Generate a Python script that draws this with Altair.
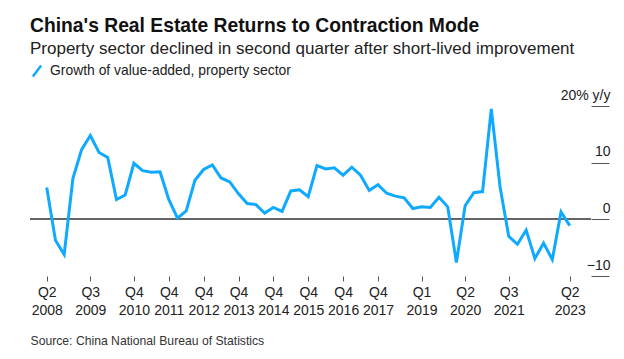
import altair as alt
import pandas as pd

# Quarterly growth of value-added, property sector (% y/y), Q2 2008 .. Q2 2023
values = [
    5.6, -3.7, -6.2, 7.2, 12.3, 14.8, 11.8, 10.9, 3.5, 4.3,
    9.9, 8.6, 8.3, 8.4, 3.5, 0.2, 1.5, 6.9, 8.8, 9.6,
    7.3, 6.6, 4.5, 2.8, 2.6, 1.1, 2.1, 1.4, 5.0, 5.2,
    4.0, 9.5, 8.9, 9.1, 7.8, 9.2, 7.8, 5.1, 6.1, 4.6,
    4.1, 3.8, 1.9, 2.2, 2.1, 3.9, 2.2, -7.6, 2.4, 4.7,
    4.9, 19.5, 5.8, -3.0, -4.4, -1.9, -6.9, -4.2, -7.1, 1.3,
    -1.1,
]
quarters = [f"Q{(q % 4) + 1} {2008 + q // 4}" for q in range(1, 1 + len(values))]
tick_labels = ["Q2 2008", "Q3 2009", "Q4 2010", "Q4 2011", "Q4 2012", "Q4 2013",
               "Q4 2014", "Q4 2015", "Q4 2016", "Q4 2017", "Q1 2019", "Q2 2020",
               "Q3 2021", "Q2 2023"]
y_ticks = [-10, 0, 10, 20]
series_name = "Growth of value-added, property sector"

df = pd.DataFrame({
    "t": list(range(len(values))),
    "quarter": quarters,
    "value": values,
    "series": series_name,
})
tick_idx = [quarters.index(l) for l in tick_labels]
label_expr = ("split([" + ",".join(f"'{l}'" for l in tick_labels) + "][indexof(["
              + ",".join(str(i) for i in tick_idx) + "], datum.value)], ' ')")

FONT = "Liberation Sans"
BLUE = "#0fa9ff"

x = alt.X("t:Q",
          scale=alt.Scale(domain=[-1.92, 62.44], nice=False, zero=False),
          axis=alt.Axis(values=tick_idx, labelExpr=label_expr, tickSize=5,
                        tickColor="#555", domain=False, grid=False,
                        labelFont=FONT, labelFontSize=14, labelColor="#222",
                        labelLineHeight=18, labelPadding=4, labelBaseline="top",
                        labelFlush=False, labelOverlap=False,
                        title="Source: China National Bureau of Statistics",
                        titleFont=FONT, titleFontSize=12.2, titleFontWeight="normal",
                        titleColor="#333", titleAnchor="start", titleAlign="left",
                        titleBaseline="alphabetic", titleX=0, titleY=68))

y_axis = alt.Axis(orient="right", values=y_ticks, tickSize=18, tickColor="#555",
                  tickWidth=1, domain=False, grid=False,
                  labelExpr="datum.value == 20 ? '20% y/y' : datum.label",
                  labelAlign="right", labelPadding=1, labelBaseline="alphabetic",
                  labelOffset=-7, labelFont=FONT, labelFontSize=14,
                  labelColor="#222", title=None)

zero = alt.Chart(df).mark_rule(color="#666", strokeWidth=1.4).encode(
    y=alt.datum(0, scale=alt.Scale(domain=[-10, 20], nice=False))
)

line = alt.Chart(df).mark_line(strokeWidth=3, strokeJoin="miter").encode(
    x=x,
    y=alt.Y("value:Q", scale=alt.Scale(domain=[-10, 20], nice=False), axis=y_axis),
    color=alt.Color("series:N", scale=alt.Scale(range=[BLUE]),
                    legend=alt.Legend(orient="none", legendX=0, legendY=-42,
                                      title=None, symbolType="M-0.75,1L0.75,-1",
                                      symbolSize=121, symbolStrokeWidth=2.5,
                                      labelFont=FONT, labelFontSize=13.9,
                                      labelLimit=0,
                                      labelColor="#222", labelOffset=6)),
)

chart = alt.layer(zero, line).properties(
    width=561,
    height=170,
    autosize=alt.AutoSizeParams(type="none"),
    padding={"left": 22, "top": 98, "right": 25, "bottom": 80},
    title=alt.TitleParams(
        text="China's Real Estate Returns to Contraction Mode",
        subtitle="Property sector declined in second quarter after short-lived improvement",
        anchor="start", frame="group", font=FONT, fontSize=19.3, fontWeight="bold",
        color="#111", subtitleFont=FONT, subtitleFontSize=17, subtitleColor="#222",
        subtitlePadding=5, offset=7,
    ),
).configure_view(stroke=None)

chart.save("out.html", embed_options={"renderer": "svg", "actions": False})
